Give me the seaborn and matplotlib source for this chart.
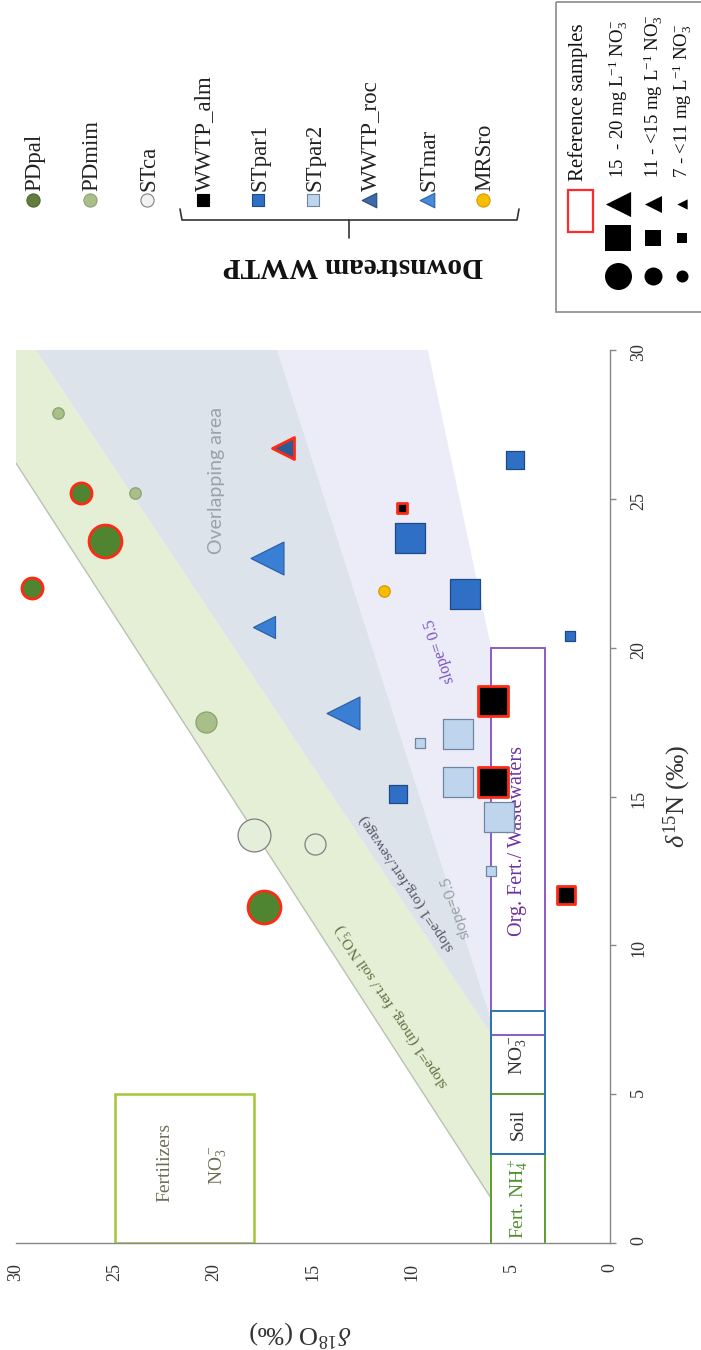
import numpy as np
import pandas as pd
import matplotlib
matplotlib.use("Agg")
import matplotlib.pyplot as plt
from matplotlib.patches import Rectangle
import seaborn as sns

# ---------------- data ----------------
site_names = ["PDpal", "PDmim", "STca", "WWTP_alm", "STpar1",
              "STpar2", "WWTP_roc", "STmar", "MRSro"]

sample_site = ["PDpal", "PDpal", "PDpal", "PDpal",
               "PDmim", "PDmim", "PDmim",
               "STca", "STca",
               "STpar1", "STpar1", "STpar1", "STpar1", "STpar1",
               "STpar2", "STpar2", "STpar2", "STpar2", "STpar2",
               "STmar", "STmar", "STmar",
               "MRSro",
               "WWTP_roc",
               "WWTP_alm", "WWTP_alm", "WWTP_alm", "WWTP_alm"]
sample_d18O = [29.2, 26.7, 25.5, 17.5,
               27.9, 24.0, 20.4,
               18.0, 14.9,
               4.8, 10.1, 7.3, 2.0, 10.7,
               9.6, 7.7, 7.7, 5.6, 6.0,
               17.3, 17.5, 13.5,
               11.4,
               16.5,
               10.5, 5.9, 5.9, 2.2]
sample_d15N = [22.0, 25.2, 23.6, 11.3,
               27.9, 25.2, 17.5,
               13.7, 13.4,
               26.3, 23.7, 21.8, 20.4, 15.1,
               16.8, 17.1, 15.5, 14.3, 12.5,
               23.0, 20.7, 17.8,
               21.9,
               26.7,
               24.7, 18.2, 15.5, 11.7]
# nitrate concentration class: "high" 15-20, "mid" 11-<15, "low" 7-<11 mg/L
sample_no3_class = ["mid", "mid", "high", "high",
                    "low", "low", "mid",
                    "high", "mid",
                    "mid", "high", "high", "low", "mid",
                    "low", "high", "high", "high", "low",
                    "high", "mid", "high",
                    "low",
                    "mid",
                    "low", "high", "high", "mid"]
sample_is_reference = [True, True, True, True,
                       False, False, False,
                       False, False,
                       False, False, False, False, False,
                       False, False, False, False, False,
                       False, False, False,
                       False,
                       True,
                       True, True, True, True]

d18O_ticks = [0, 5, 10, 15, 20, 25, 30]
d15N_ticks = [0, 5, 10, 15, 20, 25, 30]

# source boxes (d18O range, d15N range)
box_names = ["Fert. NH$_4^+$", "Soil NO$_3^-$", "Org. Fert./ Wastewaters"]
box_d18O_min = [3.3, 3.3, 3.3]
box_d18O_max = [6.0, 6.0, 6.0]
box_d15N_min = [-1.0, 3.0, 7.0]
box_d15N_max = [5.0, 7.8, 20.0]
fert_no3_d18O = [18.0, 25.0]
fert_no3_d15N = [0.0, 5.0]

# mixing / denitrification bands (d18O, d15N vertices)
inorg_band_d18O = [6.0, 30.0, 30.0, 29.0, 6.0]
inorg_band_d15N = [1.5, 26.2, 30.0, 30.0, 7.0]
overlap_band_d18O = [6.0, 29.0, 16.8, 6.0]
overlap_band_d15N = [7.0, 30.0, 30.0, 7.5]
org_band_d18O = [6.0, 16.8, 9.2, 6.0]
org_band_d15N = [7.5, 30.0, 30.0, 20.0]

legend_classes = [r"15  - 20 mg L$^{-1}$ NO$_3^{-}$",
                  r"11 - <15 mg L$^{-1}$ NO$_3^{-}$",
                  r"7 - <11 mg L$^{-1}$ NO$_3^{-}$"]

# ---------------- styles ----------------
site_style = {
    "PDpal":    dict(marker="o", face="#4f8530", edge="#4a6a30"),
    "PDmim":    dict(marker="o", face="#a9bf8a", edge="#8fa070"),
    "STca":     dict(marker="o", face="#e4eedb", edge="#808080"),
    "WWTP_alm": dict(marker="s", face="#000000", edge="#000000"),
    "STpar1":   dict(marker="s", face="#2f6fc6", edge="#1f4a86"),
    "STpar2":   dict(marker="s", face="#bfd5ee", edge="#6f86a3"),
    "WWTP_roc": dict(marker="<", face="#2d5c95", edge="#2a4a7a"),
    "STmar":    dict(marker="<", face="#3b7fd4", edge="#2a62a8"),
    "MRSro":    dict(marker="o", face="#f8bd00", edge="#d89a00"),
}
legend_face = {"PDpal": "#637d40", "STca": "#f2f2f2", "STmar": "#4a88d8",
               "WWTP_roc": "#3d6aa6"}
size_area = {
    "o": {"high": 560, "mid": 230, "low": 68},
    "s": {"high": 470, "mid": 185, "low": 62},
    "<": {"high": 560, "mid": 250, "low": 80},
}
ref_edge = "#ff2a14"
SERIF = ["Liberation Serif", "DejaVu Serif"]

sns.set_style("white")
plt.rcParams["font.family"] = SERIF
plt.rcParams["mathtext.fontset"] = "custom"
plt.rcParams["mathtext.rm"] = "Liberation Serif"
plt.rcParams["mathtext.it"] = "Liberation Serif:italic"
plt.rcParams["mathtext.bf"] = "Liberation Serif:bold"

W, H = 701, 1350
fig = plt.figure(figsize=(W / 100, H / 100), dpi=100)
fig.patch.set_facecolor("white")

# main panel: d18O runs horizontally (reversed), d15N vertically
ax = fig.add_axes([16 / W, (H - 1243) / H, 594 / W, 893 / H])
ax.set_xlim(30, 0)
ax.set_ylim(0, 30)
ax.set_facecolor("white")

ax.fill(inorg_band_d18O, inorg_band_d15N, color="#e5efd6", lw=0, zorder=1)
ax.fill(overlap_band_d18O, overlap_band_d15N, color="#dce3ea", lw=0, zorder=1.1)
ax.fill(org_band_d18O, org_band_d15N, color="#ecebf8", lw=0, zorder=1.1)
ax.plot(inorg_band_d18O[:2], inorg_band_d15N[:2], color="#b9c2b2", lw=1, zorder=1.2)

# source boxes
box_edges = ["#5a9e2e", "#2e75b6", "#8b5cc6"]
for i in range(len(box_names)):
    ax.add_patch(Rectangle((box_d18O_min[i], box_d15N_min[i]),
                           box_d18O_max[i] - box_d18O_min[i],
                           box_d15N_max[i] - box_d15N_min[i],
                           fill=(i != 1), facecolor="white",
                           edgecolor=box_edges[i], lw=1.4, zorder=2))
ax.add_patch(Rectangle((box_d18O_min[1], box_d15N_min[1]),
                       box_d18O_max[1] - box_d18O_min[1],
                       box_d15N_max[1] - box_d15N_min[1],
                       fill=False, edgecolor=box_edges[1], lw=1.4, zorder=2.1))
ax.add_patch(Rectangle((fert_no3_d18O[0], fert_no3_d15N[0]),
                       fert_no3_d18O[1] - fert_no3_d18O[0],
                       fert_no3_d15N[1] - fert_no3_d15N[0],
                       fill=False, edgecolor="#a4c639", lw=1.8, zorder=2))

o_mid = (box_d18O_min[0] + box_d18O_max[0]) / 2
ax.text(o_mid, 1.5, box_names[0], rotation=90, ha="center", va="center",
        color="#4f8f2f", fontsize=14, zorder=3)
ax.text(o_mid, 4.0, "Soil", rotation=90, ha="center", va="center",
        color="#333333", fontsize=14, zorder=3)
ax.text(o_mid, 6.3, "NO$_3^-$", rotation=90, ha="center", va="center",
        color="#333333", fontsize=14, zorder=3)
ax.text(o_mid, 13.5, box_names[2], rotation=90, ha="center", va="center",
        color="#7030a0", fontsize=14.5, zorder=3)
ax.text(22.5, 2.7, "Fertilizers", rotation=90, ha="center", va="center",
        color="#6e6e55", fontsize=14, zorder=3)
ax.text(19.8, 2.6, "NO$_3^-$", rotation=90, ha="center", va="center",
        color="#6e6e55", fontsize=14, zorder=3)


def line_angle(o1, n1, o2, n2):
    p1 = ax.transData.transform((o1, n1))
    p2 = ax.transData.transform((o2, n2))
    return np.degrees(np.arctan2(p2[1] - p1[1], p2[0] - p1[0]))


ang1 = line_angle(0, 0, 10, 10)
ang05 = line_angle(0, 0, 5, 10)
ax.text(11.0, 7.95, "slope=1 (inorg. fert./ soil NO$_3^-$)", rotation=ang1,
        rotation_mode="anchor", ha="center", va="center", color="#5d6e3e",
        fontsize=11, zorder=3)
ax.text(10.25, 12.1, "slope=1 (org.fert./sewage)", rotation=ang1,
        rotation_mode="anchor", ha="center", va="center", color="#55556a",
        fontsize=11, zorder=3)
ax.text(7.8, 11.3, "slope=0.5", rotation=ang05, rotation_mode="anchor",
        ha="center", va="center", color="#9aa2a8", fontsize=11,
        family="Lato", zorder=3)
ax.text(8.6, 19.9, "slope= 0.5", rotation=ang05, rotation_mode="anchor",
        ha="center", va="center", color="#7a52c0", fontsize=11.5, zorder=3)
ax.text(19.85, 25.6, "Overlapping area", rotation=90, ha="center", va="center",
        color="#9aa3aa", fontsize=14, family="Lato", zorder=3)

# samples
df = pd.DataFrame({"site": sample_site, "d18O": sample_d18O, "d15N": sample_d15N,
                   "no3": sample_no3_class, "ref": sample_is_reference})
for ref in (False, True):
    for site in site_names:
        for cls in ("high", "mid", "low"):
            sub = df[(df.site == site) & (df.no3 == cls) & (df.ref == ref)]
            if sub.empty:
                continue
            st = site_style[site]
            sns.scatterplot(data=sub, x="d18O", y="d15N", ax=ax,
                            marker=st["marker"], s=size_area[st["marker"]][cls],
                            color=st["face"],
                            edgecolor=ref_edge if ref else st["edge"],
                            linewidth=2.0 if ref else 0.9,
                            legend=False, zorder=5 if ref else 4)

ax.set_xlabel("")
ax.set_ylabel("")
ax.set_xticks(d18O_ticks)
ax.set_yticks(d15N_ticks)
ax.set_xticklabels([str(t) for t in d18O_ticks], family=SERIF)
ax.set_yticklabels([str(t) for t in d15N_ticks], family=SERIF)
ax.yaxis.tick_right()
for side in ("top", "left"):
    ax.spines[side].set_visible(False)
for side in ("bottom", "right"):
    ax.spines[side].set_color("#888888")
    ax.spines[side].set_linewidth(1.0)
ax.tick_params(axis="both", direction="out", length=4.5, width=1,
               color="#888888", labelsize=13, labelcolor="#333333", pad=10)
ax.tick_params(axis="x", labelrotation=90)
ax.tick_params(axis="y", labelrotation=90)

# overlay in pixel coordinates for titles and legend
lax = fig.add_axes([0, 0, 1, 1])
lax.set_xlim(0, W)
lax.set_ylim(H, 0)
lax.axis("off")

lax.text(300, 1333, r"$\delta^{18}$O (‰)", rotation=180, ha="center",
         va="center", fontsize=19, color="#333333")
lax.text(677, 796, r"$\delta^{15}$N (‰)", rotation=90, ha="center",
         va="center", fontsize=19, color="#333333")

# site legend
leg_x = [33, 90, 147, 203, 258, 313, 369, 427, 483]
leg_area = {"o": 90, "s": 78, "<": 110}
for site, x in zip(site_names, leg_x):
    st = site_style[site]
    lax.scatter([x], [200], marker=st["marker"], s=leg_area[st["marker"]],
                c=legend_face.get(site, st["face"]), edgecolors=st["edge"],
                linewidths=0.8, zorder=3)
    lax.text(x + 2, 191, site, rotation=90, ha="center", va="bottom",
             fontsize=16.5, color="#222222")

lax.plot([180, 182, 517, 519], [209, 220, 220, 209], color="#333333", lw=1.2)
lax.plot([349, 349], [220, 238], color="#333333", lw=1.2)
lax.text(353, 266, "Downstream WWTP", rotation=180, ha="center", va="center",
         fontsize=21, fontweight="bold", color="#111111")

# concentration / reference legend box
lax.add_patch(Rectangle((556, 2), 160, 310, fill=False, edgecolor="#8a8a8a", lw=1.2))
lax.add_patch(Rectangle((568, 190), 25, 42, fill=False, edgecolor="#ff2a2a", lw=1.6))
lax.text(578, 181, "Reference samples", rotation=90, ha="center", va="bottom",
         fontsize=15, color="#111111")
row_x = [618, 653, 682]
tri_area = [330, 150, 55]
sq_area = [325, 117, 52]
circ_area = [378, 168, 75]
for i, x in enumerate(row_x):
    lax.scatter([x], [204], marker="<", s=tri_area[i], c="black", lw=0)
    lax.scatter([x], [238], marker="s", s=sq_area[i], c="black", lw=0)
    lax.scatter([x], [276], marker="o", s=circ_area[i], c="black", lw=0)
    lax.text(x, 178, legend_classes[i], rotation=90, ha="center", va="bottom",
             fontsize=13.5, color="#111111")

fig.savefig("out.png", dpi=100, facecolor="white")
